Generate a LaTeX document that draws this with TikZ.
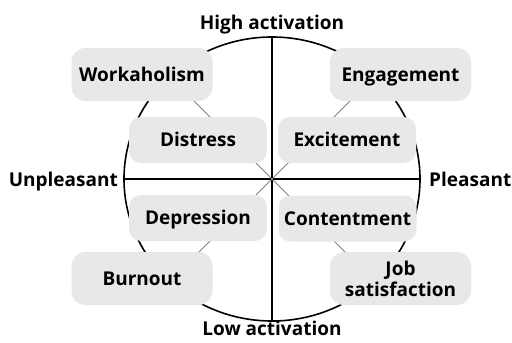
\documentclass[tikz,border=0pt]{standalone}
\usepackage{fontspec}
\setmainfont{Open Sans}
\usetikzlibrary{backgrounds}
\definecolor{boxfill}{HTML}{E8E8E8}
\definecolor{diag}{HTML}{858585}
\tikzset{
  lab/.style={font=\bfseries\fontsize{19}{21}\selectfont, text=black, inner sep=0pt},
  boxbase/.style={lab, fill=boxfill},
  outerbox/.style={boxbase, rounded corners=14pt, minimum width=141pt, minimum height=53pt, text height=13.6pt, text depth=0pt},
  innerbox/.style={boxbase, rounded corners=12pt, minimum width=138pt, minimum height=46pt, text height=13.6pt, text depth=0pt},
  twolinebox/.style={boxbase, rounded corners=14pt, minimum width=141pt, minimum height=53pt, align=center},
  axis/.style={line width=1.6pt, black},
  diagline/.style={line width=0.9pt, diag}
}
\begin{document}
\begin{tikzpicture}[x=1pt,y=-1pt]
\useasboundingbox (0,0) rectangle (512,343);
\coordinate (O) at (272,179);
\coordinate (top) at (272,37);
\coordinate (bot) at (272,321);
\coordinate (lft) at (124,179);
\coordinate (rgt) at (420,179);
\coordinate (d1) at (172,79);
\coordinate (d2) at (372,79);
\coordinate (d3) at (172,279);
\coordinate (d4) at (372,279);

\node[outerbox] (work) at (142,74.5) {Workaholism};
\node[outerbox] (eng) at (400.5,74.5) {Engagement};
\node[innerbox] (dis) at (198,140) {Distress};
\node[innerbox] (exc) at (347,140) {Excitement};
\node[innerbox] (dep) at (198,218) {Depression};
\node[innerbox] (con) at (347.5,218.5) {Contentment};
\node[outerbox] (burn) at (142,278.5) {Burnout};
\node[twolinebox] (job) at (400.5,278.5) {Job\\satisfaction};

\node[lab, anchor=base] (high) at (272,29) {High activation};
\node[lab, anchor=base] (low) at (272,335) {Low activation};
\node[lab, anchor=base east] (unp) at (118,186.5) {Unpleasant};
\node[lab, anchor=base west] (ple) at (429,186.5) {Pleasant};

\begin{scope}[on background layer]
  \draw[axis] (O) ellipse [x radius=148, y radius=142];
  \draw[axis] (top) -- (bot);
  \draw[axis] (lft) -- (rgt);
  \draw[diagline] (O) -- (d1);
  \draw[diagline] (O) -- (d2);
  \draw[diagline] (O) -- (d3);
  \draw[diagline] (O) -- (d4);
\end{scope}
\end{tikzpicture}
\end{document}
